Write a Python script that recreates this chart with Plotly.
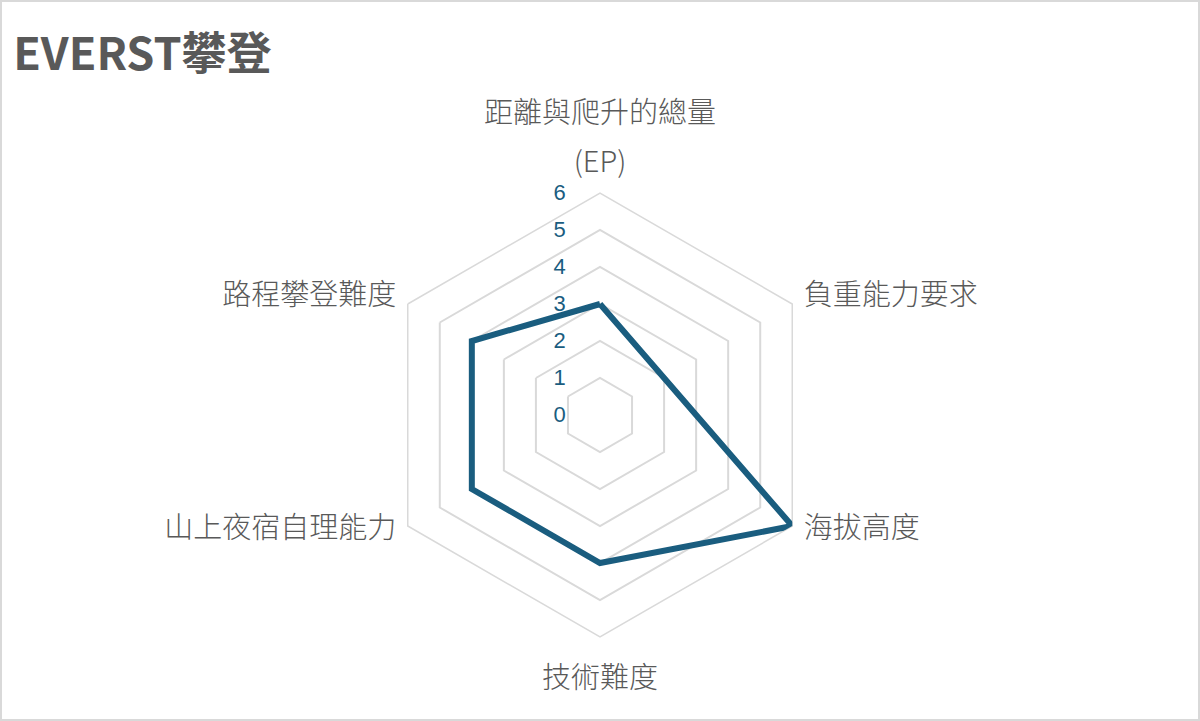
import plotly.graph_objects as go

categories = ["距離與爬升的總量<br>(EP)", "負重能力要求", "海拔高度<br> <br> ", "技術難度",
              "山上夜宿自理能力<br> <br> ", "路程攀登難度"]
values = [3, 2, 6, 4, 4, 4]
radial_ticks = [0, 1, 2, 3, 4, 5, 6]

line_color = "#1A5D7F"
grid_color = "#D9D9D9"
text_color = "#595959"
cjk_font = "Noto Sans CJK TC"

# labels are drawn smaller than the axis font so the two-line label gets wider line spacing
labels = ["<br>".join(f"<span style='font-size:29px'>{part}</span>" for part in c.split("<br>"))
          for c in categories]

fig = go.Figure()
fig.add_trace(go.Scatterpolar(
    r=values + values[:1],
    theta=labels + labels[:1],
    mode="lines",
    line=dict(color=line_color, width=6),
    hoverinfo="skip",
    showlegend=False,
))

fig.update_layout(
    width=1200,
    height=721,
    margin=dict(l=0, r=0, t=0, b=0),
    paper_bgcolor="white",
    plot_bgcolor="white",
    title=dict(
        text="<b>EVERST攀登</b>",
        font=dict(family=cjk_font, size=45, color=text_color),
        x=0.011, xanchor="left",
        y=0.925, yanchor="middle",
    ),
    polar=dict(
        domain=dict(x=[0, 1], y=[84 / 721, 528 / 721]),
        bgcolor="white",
        gridshape="linear",
        radialaxis=dict(
            range=[0, 6],
            tickvals=radial_ticks,
            angle=90,
            tickangle=90,
            side="counterclockwise",
            showline=False,
            ticks="outside",
            ticklen=26,
            tickcolor="rgba(0,0,0,0)",
            tickfont=dict(family="Liberation Sans", size=22, color=line_color),
            gridcolor=grid_color,
            gridwidth=1.5,
            layer="below traces",
        ),
        angularaxis=dict(
            rotation=90,
            direction="clockwise",
            showgrid=False,
            showline=True,
            linecolor=grid_color,
            linewidth=1.5,
            ticks="outside",
            ticklen=5,
            tickcolor="rgba(0,0,0,0)",
            tickfont=dict(family=cjk_font, size=38, color=text_color, weight=300),
            layer="below traces",
        ),
    ),
    shapes=[dict(
        type="rect", xref="paper", yref="paper",
        x0=1 / 1200, x1=1 - 1 / 1200, y0=1 / 721, y1=1 - 1 / 721,
        line=dict(color=grid_color, width=2),
    )],
)

fig.write_html("out.html", config={"displayModeBar": False},
               post_script="document.body.style.margin='0';")
